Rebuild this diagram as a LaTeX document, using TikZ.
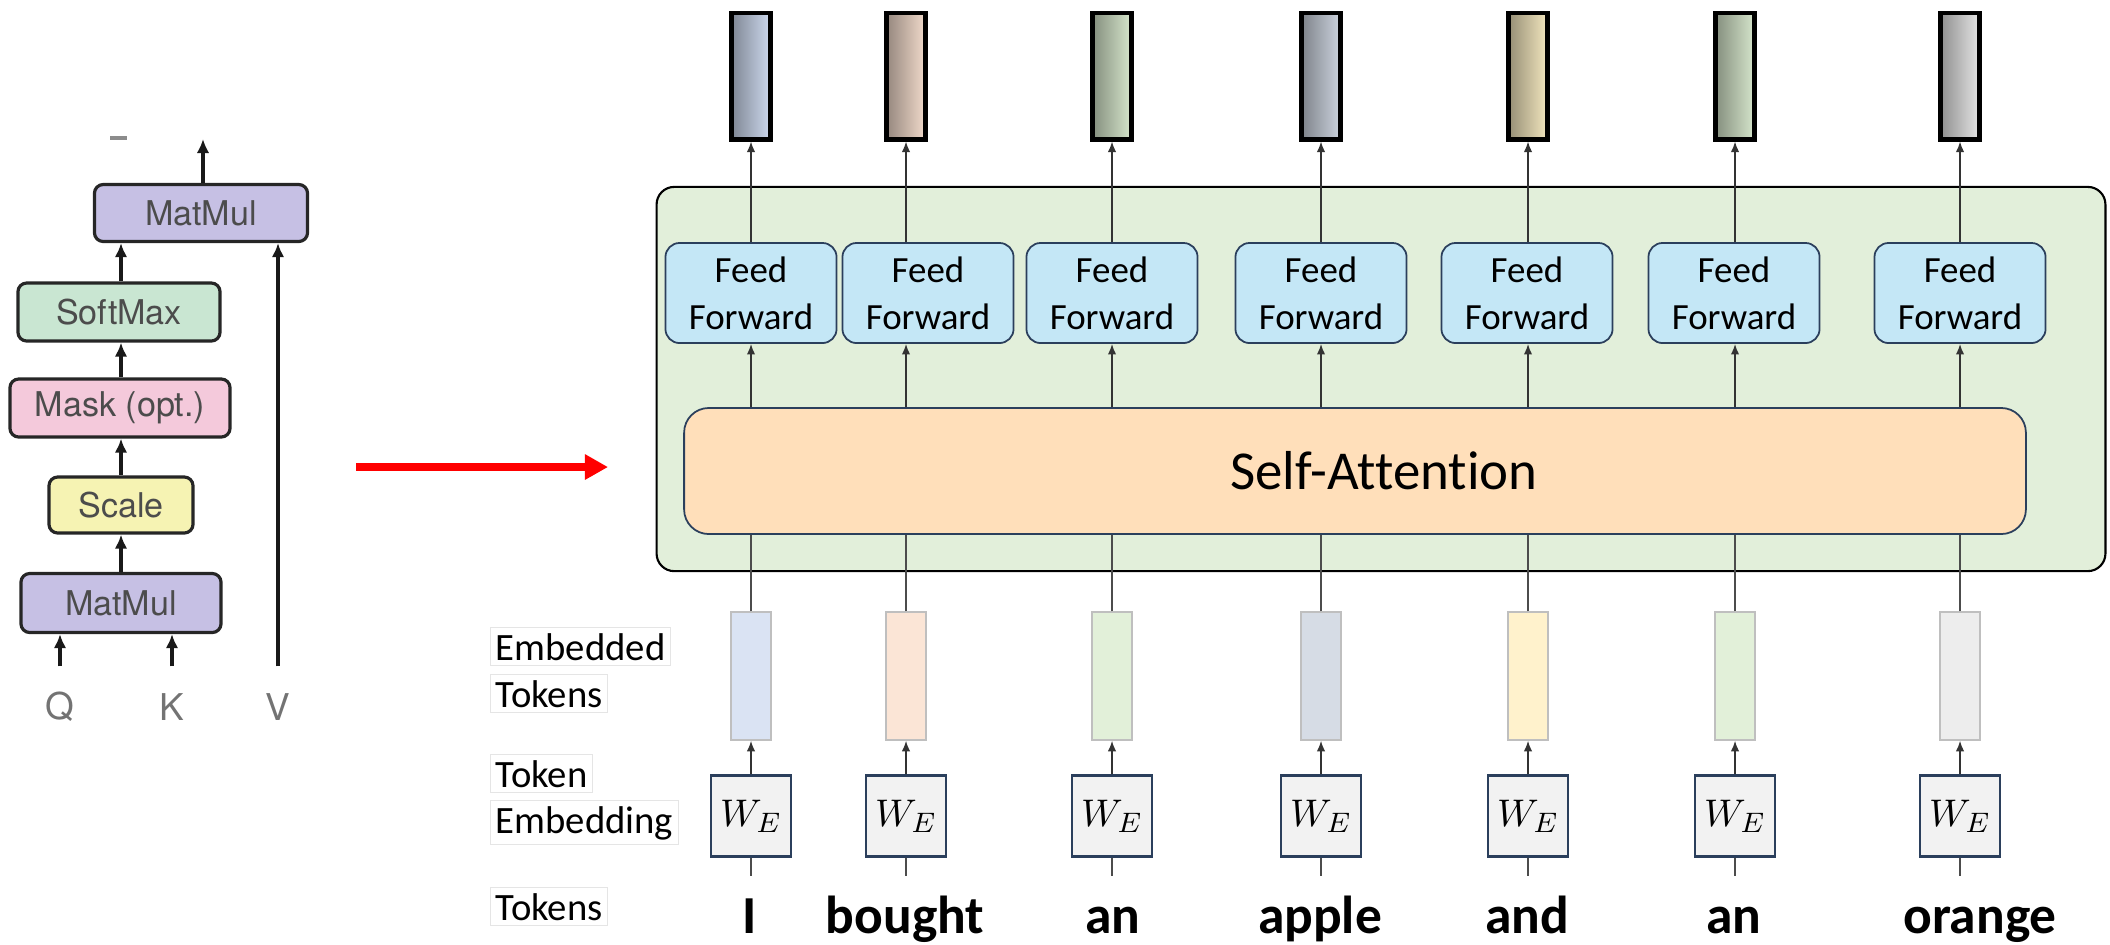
\documentclass[tikz,border=0pt]{standalone}
\usepackage{fontspec}
\setmainfont{Carlito}[Ligatures=NoCommon]
\newfontfamily\helvfont{TeX Gyre Heros}
\usetikzlibrary{arrows.meta}

\definecolor{blkgreen}{HTML}{E2EFDA}
\definecolor{ffblue}{HTML}{C4E7F6}
\definecolor{sapeach}{HTML}{FFDFBA}
\definecolor{navy}{HTML}{2B3F5C}
\definecolor{wegray}{HTML}{F2F2F2}
\definecolor{mmpurple}{HTML}{C6C0E4}
\definecolor{smgreen}{HTML}{C9E6D2}
\definecolor{mkpink}{HTML}{F4C9DB}
\definecolor{scyellow}{HTML}{F6F3B3}
\definecolor{embA}{HTML}{DAE3F3}
\definecolor{embB}{HTML}{FBE5D6}
\definecolor{embC}{HTML}{E2F0D9}
\definecolor{embD}{HTML}{D6DCE5}
\definecolor{embE}{HTML}{FFF2CC}
\definecolor{embF}{HTML}{EDEDED}
\definecolor{outA}{HTML}{CDD9EE}
\definecolor{outB}{HTML}{F1DACB}
\definecolor{outC}{HTML}{D6E6CC}
\definecolor{outD}{HTML}{CCD3DE}
\definecolor{outE}{HTML}{F2E6BE}
\definecolor{outF}{HTML}{E6E6E6}

\begin{document}
\begin{tikzpicture}[x=0.01cm,y=-0.01cm,
  lbox/.style={draw=black!85,line width=0.9pt,rounded corners=2.5pt,inner sep=0pt,
    font=\helvfont\fontsize{9.7}{11}\selectfont,text=black!70},
  bigarrow/.style={-{Latex[length=4pt,width=3.6pt]},line width=0.9pt,black!90},
  linkarrow/.style={-{Latex[length=3pt,width=2.4pt]},line width=0.45pt,black!80},
  linkline/.style={line width=0.45pt,black!70},
  ffbox/.style={draw=navy,line width=0.5pt,fill=ffblue,rounded corners=4pt,align=center,
    minimum width=1.71cm,minimum height=1cm,inner sep=0pt,font=\fontsize{10.5}{13.4}\selectfont},
  outvec/.style={draw=black,line width=1.4pt,minimum width=0.39cm,minimum height=1.26cm,inner sep=0pt},
  embvec/.style={draw=black!25,line width=0.4pt,minimum width=0.4cm,minimum height=1.28cm,inner sep=0pt},
  webox/.style={draw=navy,line width=0.7pt,fill=wegray,minimum width=0.8cm,minimum height=0.81cm,
    inner sep=0pt,font=\fontsize{11}{13}\selectfont},
  tokword/.style={font=\bfseries\fontsize{15.2}{17}\selectfont,anchor=base,inner sep=0pt},
  rowlabel/.style={draw=black!10,line width=0.3pt,anchor=base west,inner sep=1.5pt,
    font=\fontsize{11}{13}\selectfont}]
\useasboundingbox (0,0) rectangle (2110,944);

% scaled dot-product attention
\node[lbox,fill=mmpurple,minimum width=2.13cm,minimum height=0.57cm] (mmtop) at (201,213) {MatMul};
\node[lbox,fill=smgreen,minimum width=2.02cm,minimum height=0.58cm] (smax) at (119,312) {SoftMax};
\node[lbox,fill=mkpink,minimum width=2.2cm,minimum height=0.58cm] (mask) at (120,408) {Mask (opt.)};
\node[lbox,fill=scyellow,minimum width=1.44cm,minimum height=0.56cm] (scale) at (121,505) {Scale};
\node[lbox,fill=mmpurple,minimum width=2cm,minimum height=0.59cm] (mmbot) at (121,603) {MatMul};
\foreach \n/\x in {q/60,k/172,v/278}
  \node[font=\helvfont\fontsize{10.5}{12}\selectfont,text=black!55,minimum height=0.8cm,inner sep=0pt] (\n) at (\x,707) {\MakeUppercase{\n}};
\coordinate (attout) at (203,139);
\draw[bigarrow] (mmbot.north -| scale) -- (scale.south); \draw[bigarrow] (scale.north) -- (scale.north |- mask.south);
\draw[bigarrow] (mask.north -| scale) -- (smax.south -| scale); \draw[bigarrow] (smax.north -| scale) -- (mmtop.south -| scale);
\draw[bigarrow] (q.north) -- (q |- mmbot.south); \draw[bigarrow] (k.north) -- (k |- mmbot.south);
\draw[bigarrow] (v.north) -- (v |- mmtop.south); \draw[bigarrow] (mmtop.north -| attout) -- (attout);
\draw[black!45,line width=1.2pt] (110,138) -- (127,138);

% red arrow
\coordinate (ra) at (356,467); \coordinate (rb) at (608,467);
\draw[red,line width=2.3pt,-{Triangle[length=0.23cm,width=0.24cm]}] (ra) -- (rb);

% transformer block
\node[draw=black,line width=0.6pt,fill=blkgreen,rounded corners=5pt,minimum width=14.48cm,minimum height=3.84cm] (blk) at (1381,379) {};
\node[draw=navy,line width=0.5pt,fill=sapeach,rounded corners=7pt,minimum width=13.41cm,minimum height=1.26cm] (sa) at (1355,471) {};
\node[font=\fontsize{15.6}{18}\selectfont] (satext) at (1384,471) {Self-Attention};

\foreach \i/\x/\fx/\wx/\word/\ec/\oc in {1/751/751/750/I/embA/outA, 2/906/928/905/bought/embB/outB,
    3/1112/1112/1113/an/embC/outC, 4/1321/1321/1320/apple/embD/outD, 5/1528/1527/1527/and/embE/outE,
    6/1735/1734/1734/an/embC/outC, 7/1960/1960/1980/orange/embF/outF}{
  \node[ffbox] (ff\i) at (\fx,293) {Feed\\Forward};
  \node[outvec,left color=\oc!62!black,right color=\oc] (out\i) at (\x,76) {};
  \node[embvec,fill=\ec] (emb\i) at (\x,676) {};
  \node[webox] (we\i) at (\x,816) {$W_E$};
  \node[tokword] (w\i) at (\wx,933) {\word};
  \draw[linkarrow] (out\i |- ff\i.north) -- (out\i.south);
  \draw[linkarrow] (out\i |- sa.north) -- (out\i |- ff\i.south);
  \draw[linkline] (emb\i.north) -- (emb\i |- sa.south);
  \draw[linkarrow] (we\i.north) -- (emb\i.south);
  \draw[linkline] (we\i.south) -- ++(0,18);
}

% row labels
\node[rowlabel] (lemb1) at (490,660) {Embedded}; \node[rowlabel] (lemb2) at (490,707) {Tokens};
\node[rowlabel] (ltok1) at (490,787) {Token}; \node[rowlabel] (ltok2) at (490,833) {Embedding};
\node[rowlabel] (lwords) at (490,920) {Tokens};
\end{tikzpicture}
\end{document}
